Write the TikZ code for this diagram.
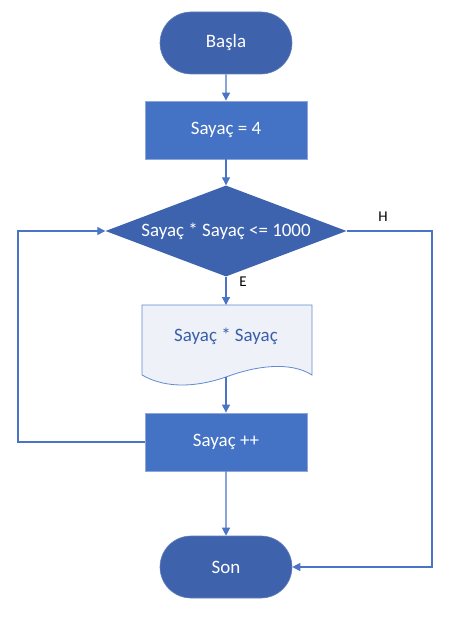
\documentclass[tikz,border=0pt]{standalone}
\usepackage{fontspec}
\setmainfont{Carlito}
\usetikzlibrary{shapes.geometric,shapes.misc,arrows.meta,backgrounds}
\definecolor{term}{HTML}{3F62AC}
\definecolor{proc}{HTML}{4472C4}
\definecolor{dia}{HTML}{3D63AF}
\definecolor{conn}{HTML}{4A74C6}
\definecolor{docfill}{HTML}{EEF1F8}
\definecolor{doctext}{HTML}{3A5FA8}
\definecolor{edge}{HTML}{8EA6D8}
\begin{document}
\begin{tikzpicture}[x=1bp,y=-1bp,
  font=\fontsize{19}{22}\selectfont,
  terminal/.style={rounded rectangle, fill=term, draw=term!80!white, line width=0.6bp,
    minimum width=132bp, minimum height=62bp, inner sep=0pt, text=white, font=\fontsize{19}{22}\selectfont},
  procbox/.style={rectangle, fill=proc, draw=edge, line width=0.8bp,
    minimum width=162bp, minimum height=58bp, inner sep=0pt, text=white, font=\fontsize{19}{22}\selectfont},
  decbox/.style={diamond, fill=dia, draw=none, aspect=2.667,
    minimum width=241bp, minimum height=91bp, inner sep=0pt, text=white, font=\fontsize{19}{22}\selectfont},
  doctxt/.style={rectangle, draw=none, inner sep=0pt, text=doctext, font=\fontsize{19}{22}\selectfont},
  conline/.style={draw=conn, line width=1.2bp, -{Triangle[length=8bp,width=8bp]}},
  lbl/.style={font=\fontsize{15}{17}\selectfont, text=black, inner sep=1bp}
]
\useasboundingbox (0,0) rectangle (464,623);
\fill[white] (0,0) rectangle (464,623);

% document shape
\filldraw[fill=docfill, draw=conn!85!white, line width=0.8bp]
  (142,305) -- (312,305) -- (312,375)
  .. controls (290,361) and (255,366) .. (226,377)
  .. controls (200,386) and (168,390) .. (142,375) -- cycle;

\node[terminal] (start) at (226,43) {Başla};
\node[procbox] (init) at (226,130) {Sayaç = 4};
\node[decbox] (dec) at (226,231) {Sayaç * Sayaç <= 1000};
\node[doctxt] (doc) at (226,336) {Sayaç * Sayaç};
\coordinate (doctop) at (226,305);
\coordinate (docbot) at (226,377);
\node[procbox] (inc) at (226,442) {Sayaç ++};
\node[terminal] (end) at (226,567) {Son};

\coordinate (rc) at (432,400);
\coordinate (lc) at (18,330);

\draw[conline] (start) -- (init);
\draw[conline] (init) -- (dec);
\draw[conline] (dec.south) -- (doctop);
\draw[conline] (docbot) -- (inc);
\draw[conline] (inc) -- (end);
\draw[conline] (inc.west) -| (lc) |- (dec.west);
\draw[conline] (dec.east) -| (rc) |- (end.east);

\node[lbl] (lh) at (383,217) {H};
\node[lbl] (le) at (243,282) {E};
\end{tikzpicture}
\end{document}
